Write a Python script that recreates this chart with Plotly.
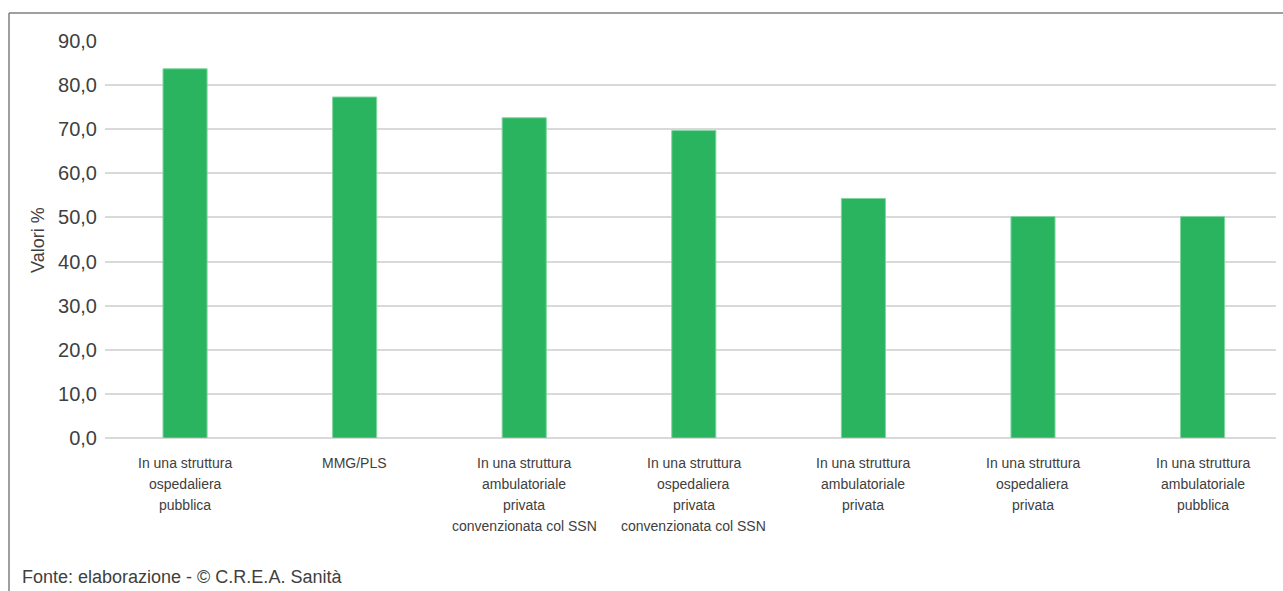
import plotly.graph_objects as go

categories = [
    "In una struttura<br>ospedaliera<br>pubblica",
    "MMG/PLS",
    "In una struttura<br>ambulatoriale<br>privata<br>convenzionata col SSN",
    "In una struttura<br>ospedaliera<br>privata<br>convenzionata col SSN",
    "In una struttura<br>ambulatoriale<br>privata",
    "In una struttura<br>ospedaliera<br>privata",
    "In una struttura<br>ambulatoriale<br>pubblica",
]
values = [83.7, 77.3, 72.6, 69.7, 54.3, 50.2, 50.2]
y_ticks = [0, 10, 20, 30, 40, 50, 60, 70, 80, 90]

W, H = 1283, 591
L, R, T, B = 105, 7, 41, 153
pw, ph = W - L - R, H - T - B

def px(x):
    return (x - L) / pw

def py(y):
    return (H - B - y) / ph

FONT = "Liberation Sans, Arial, sans-serif"
TXT = "#404040"

fig = go.Figure(
    go.Bar(
        x=list(range(len(categories))),
        y=values,
        width=0.26,
        marker=dict(color="#2bb460", line=dict(color="#7fd6a0", width=1)),
        hoverinfo="y",
    )
)

# category labels, one annotation per line for the reference's line pitch
label_anns = []
for i, cat in enumerate(categories):
    for k, line in enumerate(cat.split("<br>")):
        label_anns.append(dict(
            text=line, xref="x", yref="paper",
            x=i, y=py(463 + 21 * k), xanchor="center", yanchor="middle",
            showarrow=False, font=dict(size=14, family=FONT, color=TXT)))

fig.update_layout(
    width=W,
    height=H,
    margin=dict(l=L, r=R, t=T, b=B),
    paper_bgcolor="white",
    plot_bgcolor="white",
    separators=",.",
    showlegend=False,
    font=dict(family=FONT, color=TXT),
    xaxis=dict(
        range=[-0.472, 6.433],
        showgrid=False,
        zeroline=False,
        showline=False,
        ticks="",
        showticklabels=False,
        fixedrange=True,
    ),
    yaxis=dict(
        range=[0, 90],
        tickmode="array",
        tickvals=y_ticks,
        tickformat=".1f",
        showgrid=True,
        gridcolor="#d9d9d9",
        gridwidth=2,
        zeroline=True,
        zerolinecolor="#d9d9d9",
        zerolinewidth=2,
        showline=False,
        ticks="",
        tickfont=dict(size=20, family=FONT, color=TXT),
        ticklabelstandoff=7,
        fixedrange=True,
    ),
    shapes=[
        dict(type="line", xref="paper", yref="paper",
             x0=px(9), x1=px(1290), y0=py(13), y1=py(13),
             line=dict(color="#7f7f7f", width=1.5)),
        dict(type="line", xref="paper", yref="paper",
             x0=px(9), x1=px(9), y0=py(13), y1=py(600),
             line=dict(color="#7f7f7f", width=1.5)),
    ],
    annotations=label_anns + [
        dict(text="Valori %", xref="paper", yref="paper",
             x=px(38), y=py(240), xanchor="center", yanchor="middle",
             textangle=-90, showarrow=False,
             font=dict(size=18, family=FONT, color=TXT)),
        dict(text="Fonte: elaborazione - © C.R.E.A. Sanità", xref="paper", yref="paper",
             x=px(20), y=py(577), xanchor="left", yanchor="middle",
             showarrow=False,
             font=dict(size=18, family=FONT, color=TXT)),
    ],
)

fig.write_html("out.html", config={"displayModeBar": False})
